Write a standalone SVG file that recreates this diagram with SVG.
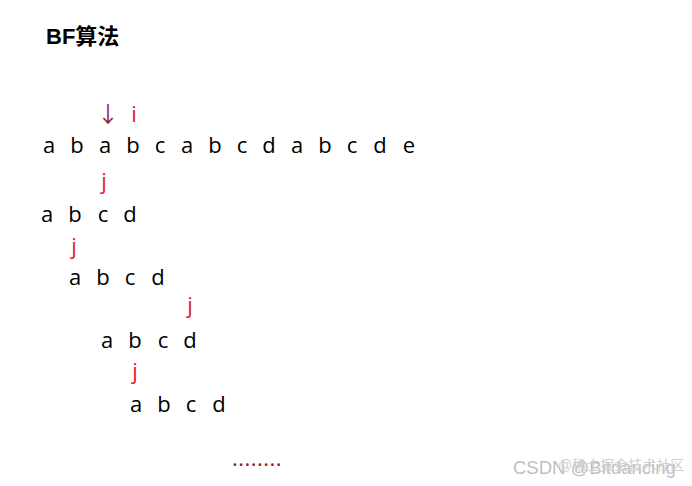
<svg xmlns="http://www.w3.org/2000/svg" width="692" height="486" viewBox="0 0 692 486">
<style>
.t{font-family:"Open Sans","Noto Sans",sans-serif;font-size:22px;fill:#000;text-anchor:middle}
.r{font-family:"Open Sans","Noto Sans",sans-serif;font-size:22px;fill:#e0202f;text-anchor:middle}
.title{font-family:"Liberation Sans","Noto Sans CJK SC",sans-serif;font-size:22px;font-weight:bold;fill:#000}
.wm{font-family:"Liberation Sans","Noto Sans CJK SC",sans-serif;font-size:18px;fill:#c0c0c0}
</style>
<rect width="692" height="486" fill="#fff"/>
<g id="title"><text class="title" x="46" y="44">BF算法</text></g>
<g id="main-string">
<text class="t" x="49" y="153">a</text><text class="t" x="77" y="153">b</text><text class="t" x="105" y="153">a</text><text class="t" x="133" y="153">b</text><text class="t" x="160" y="153">c</text><text class="t" x="187" y="153">a</text><text class="t" x="215" y="153">b</text><text class="t" x="242" y="153">c</text><text class="t" x="269" y="153">d</text><text class="t" x="297" y="153">a</text><text class="t" x="325" y="153">b</text><text class="t" x="352" y="153">c</text><text class="t" x="380" y="153">d</text><text class="t" x="409" y="153">e</text>
</g>
<g id="pointer-i">
<text class="r" x="108" y="122" style="fill:#8e1a3c;font-family:'Noto Sans CJK SC',sans-serif;font-size:22px">↓</text>
<text class="r" x="134" y="122">i</text>
</g>
<g id="row1"><text class="r" x="104" y="189">j</text>
<text class="t" x="47" y="222">a</text><text class="t" x="75" y="222">b</text><text class="t" x="103" y="222">c</text><text class="t" x="130" y="222">d</text></g>
<g id="row2"><text class="r" x="74" y="254">j</text>
<text class="t" x="75" y="285">a</text><text class="t" x="103" y="285">b</text><text class="t" x="130" y="285">c</text><text class="t" x="158" y="285">d</text></g>
<g id="row3"><text class="r" x="190" y="313">j</text>
<text class="t" x="107" y="348">a</text><text class="t" x="135" y="348">b</text><text class="t" x="163" y="348">c</text><text class="t" x="190" y="348">d</text></g>
<g id="row4"><text class="r" x="135" y="379">j</text>
<text class="t" x="136" y="412">a</text><text class="t" x="164" y="412">b</text><text class="t" x="191" y="412">c</text><text class="t" x="219" y="412">d</text></g>
<g id="dots"><text class="r" x="257" y="466" style="fill:#8e1a2c;font-size:22px;letter-spacing:0.5px">........</text></g>
<g id="watermark"><text class="wm" x="513" y="474" style="font-size:18.5px">CSDN @Bitdancing</text><text class="wm" x="558" y="470" style="font-size:14px;fill:#d0d0d0">@稀土掘金技术社区</text></g>
</svg>
